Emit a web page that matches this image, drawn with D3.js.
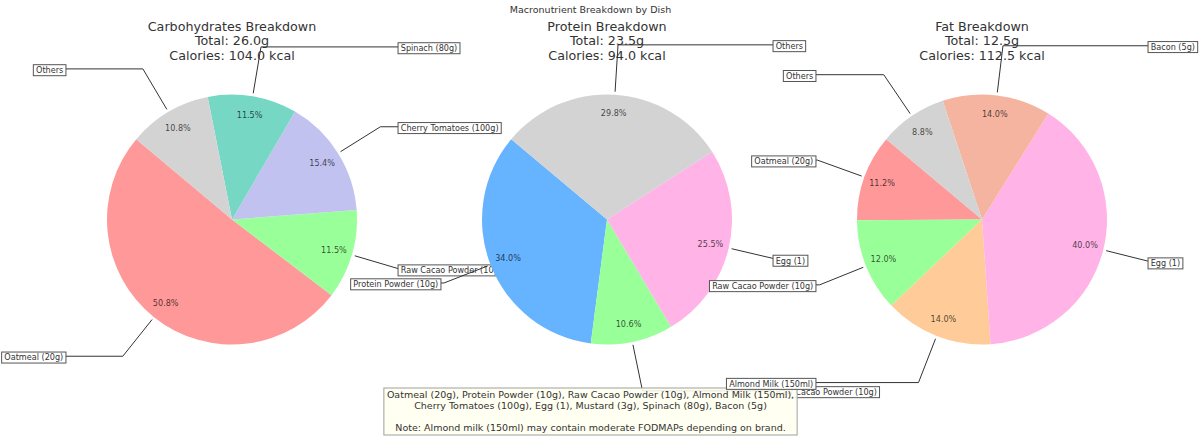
<!DOCTYPE html>
<html><head><meta charset="utf-8">
<script src="https://cdn.jsdelivr.net/npm/d3@7"></script>
<style>
body{margin:0;background:#fff}
svg{display:block}
text{font-family:"DejaVu Sans",sans-serif}
</style>
</head><body>
<svg id="chart" width="1200" height="438"></svg>
<script>
// ---------------- data ----------------
const suptitle = "Macronutrient Breakdown by Dish";
const panelTitles = ["Carbohydrates Breakdown", "Protein Breakdown", "Fat Breakdown"];
const kcalPerGram = [4, 4, 9];

const carbLabels = ["Oatmeal (20g)", "Raw Cacao Powder (10g)", "Cherry Tomatoes (100g)", "Spinach (80g)", "Others"];
const carbValues = [13.2, 3.0, 4.0, 3.0, 2.8];

const proteinLabels = ["Protein Powder (10g)", "Raw Cacao Powder (10g)", "Egg (1)", "Others"];
const proteinValues = [8.0, 2.5, 6.0, 7.0];

const fatLabels = ["Oatmeal (20g)", "Raw Cacao Powder (10g)", "Almond Milk (150ml)", "Egg (1)", "Bacon (5g)", "Others"];
const fatValues = [1.4, 1.5, 1.75, 5.0, 1.75, 1.1];

const noteLines = [
  "Oatmeal (20g), Protein Powder (10g), Raw Cacao Powder (10g), Almond Milk (150ml), ",
  "Cherry Tomatoes (100g), Egg (1), Mustard (3g), Spinach (80g), Bacon (5g)",
  "",
  "Note: Almond milk (150ml) may contain moderate FODMAPs depending on brand."
];

// ---------------- styles ----------------
const ingredientColors = {
  "Oatmeal (20g)": "#ff9999",
  "Protein Powder (10g)": "#66b3ff",
  "Raw Cacao Powder (10g)": "#99ff99",
  "Almond Milk (150ml)": "#ffcc99",
  "Cherry Tomatoes (100g)": "#c2c2f0",
  "Egg (1)": "#ffb3e6",
  "Spinach (80g)": "#76d7c4",
  "Bacon (5g)": "#f5b4a0",
  "Others": "#d3d3d3"
};

const svg = d3.select("#chart");
const cy = 219.5;
const centerX = d3.scalePoint().domain([0, 1, 2]).range([232, 982]);
const rScale = d3.scaleLinear().domain([0, 1]).range([0, 125]);
const R = rScale(1);
const startDeg = 140; // matplotlib-style start angle (ccw from 3 o'clock)
const toRad = d => d * Math.PI / 180;

svg.append("text")
  .attr("x", 590.5).attr("y", 9.5)
  .attr("text-anchor", "middle").attr("dominant-baseline", "central")
  .attr("font-size", 9.5).attr("fill", "#333")
  .text(suptitle);

function drawPanel(idx, labels, values) {
  const cx = centerX(idx);
  const total = d3.sum(values);
  const g = svg.append("g").attr("transform", `translate(${cx},${cy})`);

  // titles
  const tlines = [panelTitles[idx], `Total: ${total.toFixed(1)}g`, `Calories: ${(total * kcalPerGram[idx]).toFixed(1)} kcal`];
  g.append("g").selectAll("text").data(tlines).join("text")
    .attr("x", 0).attr("y", (d, i) => -cy + 26.7 + i * 14.2)
    .attr("text-anchor", "middle").attr("dominant-baseline", "central")
    .attr("font-size", 12.7).attr("fill", "#333")
    .text(d => d);

  const a0 = toRad(90 - startDeg);
  const pie = d3.pie().sort(null).startAngle(a0).endAngle(a0 - 2 * Math.PI);
  const arcs = pie(values);

  // annotations (below wedges)
  const anno = g.append("g");
  arcs.forEach((a, i) => {
    const mid = (a.startAngle + a.endAngle) / 2;
    const x = Math.sin(mid), y = Math.cos(mid);
    const sgn = x >= 0 ? 1 : -1;
    const tx = rScale(1.35 * sgn), ty = -rScale(1.4 * y);
    const kx = rScale(1.4 * x), ky = -rScale(1.4 * y);
    const sx = (R + 3) * x, sy = -(R + 3) * y;
    anno.append("path")
      .attr("d", `M${tx},${ty}L${kx},${ky}L${sx},${sy}`)
      .attr("fill", "none").attr("stroke", "#333").attr("stroke-width", 1);
    const lg = anno.append("g");
    const rect = lg.append("rect");
    const t = lg.append("text")
      .attr("x", tx).attr("y", ty + 1.2)
      .attr("text-anchor", sgn > 0 ? "start" : "end")
      .attr("dominant-baseline", "central")
      .attr("font-size", 8.1).attr("fill", "#333")
      .text(labels[i]);
    const w = t.node().getComputedTextLength();
    const bx = sgn > 0 ? tx - 2.7 : tx - w - 2.7;
    rect.attr("x", bx).attr("y", ty + 1.3 - 5.5)
      .attr("width", w + 5.4).attr("height", 11)
      .attr("fill", "#fff").attr("stroke", "#555").attr("stroke-width", 1);
  });

  const arcGen = d3.arc().innerRadius(0).outerRadius(R);
  g.append("g").selectAll("path").data(arcs).join("path")
    .attr("d", arcGen)
    .attr("fill", (d, i) => ingredientColors[labels[i]]);

  g.append("g").selectAll("text").data(arcs).join("text")
    .attr("x", d => Math.sin((d.startAngle + d.endAngle) / 2) * 0.85 * R)
    .attr("y", d => -Math.cos((d.startAngle + d.endAngle) / 2) * 0.85 * R)
    .attr("text-anchor", "middle").attr("dominant-baseline", "central")
    .attr("font-size", 8.1).attr("fill", "#000").attr("fill-opacity", 0.7)
    .text(d => (d.value / total * 100).toFixed(1) + "%");
}

drawPanel(0, carbLabels, carbValues);
drawPanel(1, proteinLabels, proteinValues);

// note box
const noteG = svg.append("g");
const noteRect = noteG.append("rect");
const noteTexts = noteG.selectAll("text").data(noteLines).join("text")
  .attr("x", 590.5).attr("y", (d, i) => 394 + i * 11.2)
  .attr("text-anchor", "middle").attr("dominant-baseline", "central")
  .attr("font-size", 9.5).attr("fill", "#333")
  .text(d => d);
let maxW = 0;
noteTexts.each(function() { maxW = Math.max(maxW, this.getComputedTextLength()); });
noteRect.attr("x", 590.5 - maxW / 2 - 3).attr("y", 388)
  .attr("width", maxW + 6).attr("height", 47)
  .attr("fill", "#fffff0").attr("fill-opacity", 0.88)
  .attr("stroke", "#a0a0a0").attr("stroke-width", 1);

drawPanel(2, fatLabels, fatValues);
</script>
</body></html>
